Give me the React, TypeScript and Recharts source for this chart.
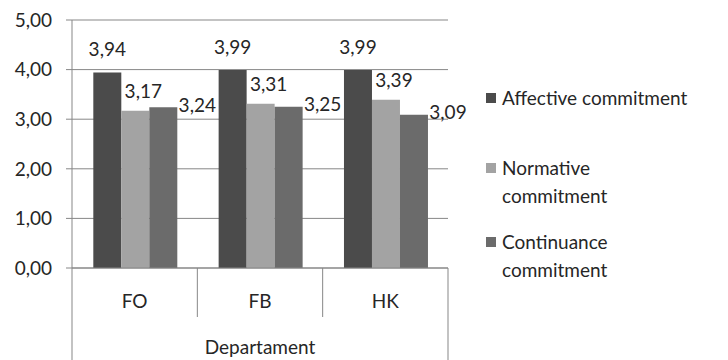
import { Bar, BarChart, CartesianGrid, LabelList, XAxis, YAxis } from "recharts";

const departments = ["FO", "FB", "HK"];
const affective = [3.94, 3.99, 3.99];
const normative = [3.17, 3.31, 3.39];
const continuance = [3.24, 3.25, 3.09];
const yTicks = [0, 1, 2, 3, 4, 5];

const series = [
  { key: "affective", name: "Affective commitment", color: "#4b4b4b", dx: 0, dy: -24 },
  { key: "normative", name: "Normative commitment", color: "#a3a3a3", dx: 8, dy: -20 },
  { key: "continuance", name: "Continuance commitment", color: "#6b6b6b", dx: 34, dy: -3 },
];

const data = departments.map((dep, i) => ({
  dep,
  affective: affective[i],
  normative: normative[i],
  continuance: continuance[i],
}));

const FONT = "Lato, 'DejaVu Sans', sans-serif";
const TEXT = "#262626";
const LINE = "#878787";
const fmt = (v: number) => v.toFixed(2).replace(".", ",");

// category tick: label plus the excel-style separator lines under the plot
function CategoryTick(props: any) {
  const { x, y, payload, index } = props;
  const half = payload.offset || 62.7;
  const last = index === departments.length - 1;
  return (
    <g>
      <line
        x1={x - half}
        x2={x - half}
        y1={y}
        y2={index === 0 ? 360 : y + 49}
        stroke={LINE}
      />
      {last && <line x1={x + half} x2={x + half} y1={y} y2={360} stroke={LINE} />}
      <text
        x={x}
        y={y + 32}
        textAnchor="middle"
        dominantBaseline="central"
        fill={TEXT}
        fontSize={19}
        fontFamily={FONT}
      >
        {payload.value}
      </text>
    </g>
  );
}

function valueLabel(dx: number, dy: number) {
  return (p: any) => (
    <text
      x={p.x + p.width / 2 + dx}
      y={p.y + dy}
      textAnchor="middle"
      dominantBaseline="central"
      fill={TEXT}
      fontSize={19}
      fontFamily={FONT}
    >
      {fmt(Number(p.value))}
    </text>
  );
}

const legendTops = [84, 154, 228];

export default function App() {
  return (
    <div style={{ position: "absolute", left: 0, top: 0, width: 728, height: 360, background: "#fff" }}>
      <BarChart
        width={728}
        height={360}
        data={data}
        margin={{ top: 20, right: 280, bottom: 0, left: 0 }}
        barCategoryGap="17%"
        barGap={0}
      >
        <CartesianGrid vertical={false} stroke={LINE} />
        <XAxis
          dataKey="dep"
          height={92}
          axisLine={{ stroke: LINE }}
          tickLine={false}
          tickSize={0}
          tickMargin={0}
          interval={0}
          tick={<CategoryTick />}
          label={{
            value: "Departament",
            position: "insideBottom",
            offset: 6,
            fill: TEXT,
            fontSize: 19,
            fontFamily: FONT,
          }}
        />
        <YAxis
          width={72}
          domain={[0, 5]}
          ticks={yTicks}
          tickFormatter={fmt}
          axisLine={{ stroke: LINE }}
          tickLine={{ stroke: LINE }}
          tickSize={6}
          tickMargin={14}
          tick={{ fill: TEXT, fontSize: 19, fontFamily: FONT }}
        />
        {series.map((s) => (
          <Bar key={s.key} dataKey={s.key} name={s.name} fill={s.color} isAnimationActive={false}>
            <LabelList dataKey={s.key} content={valueLabel(s.dx, s.dy)} />
          </Bar>
        ))}
      </BarChart>
      {series.map((s, i) => (
        <div
          key={s.key}
          style={{
            position: "absolute",
            left: 486,
            top: legendTops[i],
            display: "flex",
            alignItems: "flex-start",
            fontFamily: FONT,
            fontSize: 19,
            lineHeight: "28px",
            color: TEXT,
          }}
        >
          <div style={{ width: 10, height: 10, background: s.color, marginTop: 9, marginRight: 6, flex: "none" }} />
          <div style={{ width: 190 }}>{s.name}</div>
        </div>
      ))}
    </div>
  );
}
